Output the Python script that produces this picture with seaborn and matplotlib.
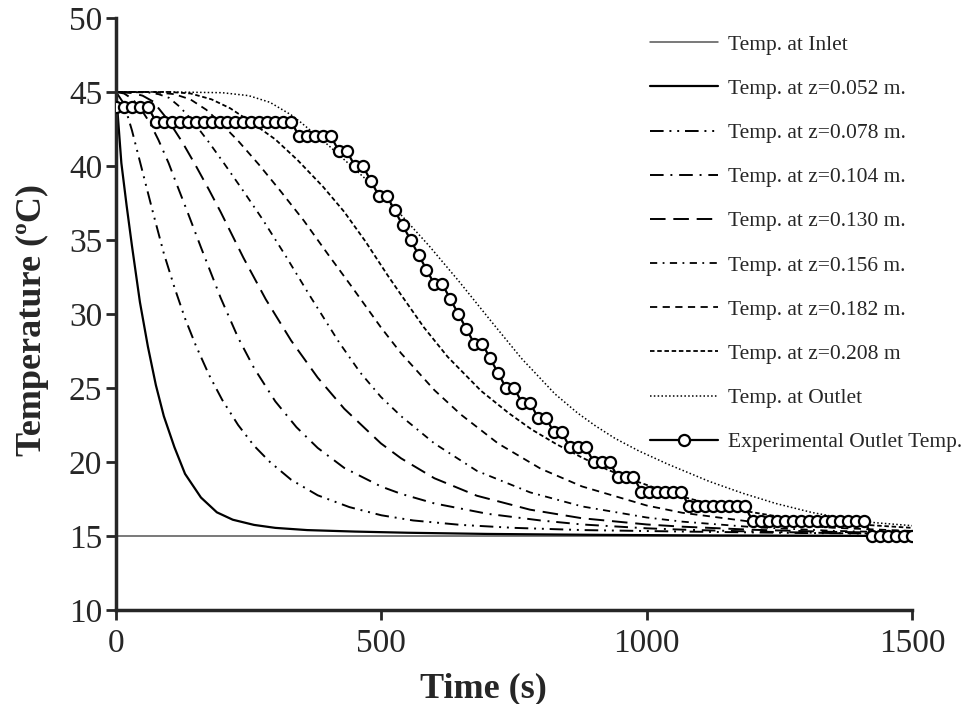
import numpy as np
import pandas as pd
import matplotlib
matplotlib.use("Agg")
import matplotlib.pyplot as plt
import seaborn as sns

# ---------------- data ----------------
inlet_t = [0, 1500]
inlet_T = [15, 15]

z052_t = [0, 10, 20, 30, 45, 60, 75, 90, 110, 130, 160, 190, 220, 260, 300, 360, 450, 550, 700, 900, 1100, 1300, 1500]
z052_T = [45, 40.2, 37.3, 34.6, 30.8, 27.8, 25.2, 23.1, 21.0, 19.2, 17.6, 16.6, 16.1, 15.75, 15.55, 15.4, 15.3, 15.22, 15.14, 15.08, 15.04, 15.02, 15.0]

z078_t = [0, 15, 30, 50, 70, 90, 110, 130, 150, 175, 200, 230, 260, 290, 330, 380, 440, 500, 560, 650, 750, 880, 1070, 1300, 1500]
z078_T = [45, 44.2, 42.4, 39.6, 36.8, 34.1, 31.8, 29.7, 27.9, 25.9, 24.2, 22.5, 21.1, 20.0, 18.8, 17.75, 16.95, 16.4, 16.05, 15.75, 15.55, 15.4, 15.3, 15.2, 15.15]

z104_t = [0, 15, 30, 45, 64, 80, 99, 115, 134, 160, 197, 230, 260, 300, 340, 380, 430, 499, 537, 600, 700, 800, 878, 1000, 1067, 1200, 1350, 1500]
z104_T = [45, 44.9, 44.55, 43.95, 42.9, 41.75, 40.2, 38.7, 36.95, 34.5, 31.1, 28.4, 26.35, 24.1, 22.35, 20.95, 19.6, 18.35, 17.85, 17.2, 16.5, 16.05, 15.78, 15.52, 15.43, 15.3, 15.2, 15.14]

z130_t = [0, 30, 50, 70, 98, 125, 149, 175, 197, 240, 282, 330, 380, 430, 499, 537, 600, 680, 780, 878, 1000, 1067, 1200, 1350, 1500]
z130_T = [45, 44.93, 44.75, 44.35, 43.1, 41.6, 40.1, 38.4, 36.9, 33.8, 31.0, 28.2, 25.7, 23.6, 21.26, 20.25, 18.9, 17.72, 16.78, 16.2, 15.78, 15.63, 15.42, 15.28, 15.2]

z156_t = [0, 60, 80, 100, 120, 143, 175, 203, 240, 276, 320, 364, 420, 460, 499, 537, 600, 680, 780, 878, 1000, 1067, 1200, 1350, 1500]
z156_T = [45, 44.97, 44.85, 44.6, 44.0, 43.1, 41.6, 40.2, 38.3, 36.4, 33.9, 31.3, 28.1, 26.05, 24.4, 23.1, 21.25, 19.4, 17.95, 17.0, 16.25, 15.97, 15.6, 15.35, 15.22]

z182_t = [0, 70, 110, 140, 170, 197, 230, 269, 310, 354, 400, 443, 499, 537, 600, 650, 720, 800, 878, 1000, 1067, 1200, 1350, 1500]
z182_T = [45, 45, 44.85, 44.5, 43.8, 42.9, 41.7, 40.1, 38.3, 36.3, 34.0, 31.9, 29.1, 27.35, 24.85, 23.2, 21.25, 19.55, 18.35, 17.06, 16.57, 15.95, 15.56, 15.34]

z208_t = [0, 100, 140, 180, 215, 253, 300, 342, 390, 430, 470, 512, 537, 580, 625, 688, 740, 783, 830, 878, 925, 972, 1020, 1067, 1150, 1250, 1350, 1500]
z208_T = [45, 45, 44.9, 44.5, 43.9, 43.0, 41.8, 40.4, 38.6, 36.9, 34.9, 32.6, 31.3, 29.1, 27.1, 24.8, 23.3, 22.2, 21.2, 20.3, 19.5, 18.8, 18.2, 17.65, 16.9, 16.3, 15.9, 15.55]

outlet_t = [0, 100, 200, 250, 290, 330, 348, 400, 474, 537, 590, 644, 707, 764, 827, 870, 903, 940, 985, 1040, 1117, 1180, 1243, 1310, 1369, 1430, 1500]
outlet_T = [45, 45, 44.95, 44.75, 44.3, 43.45, 42.95, 41.4, 39.0, 36.7, 34.6, 32.3, 29.5, 27.0, 24.6, 23.3, 22.45, 21.6, 20.75, 19.85, 18.7, 17.9, 17.2, 16.6, 16.2, 15.9, 15.7]

exp_t = [0, 15, 30, 45, 60, 75, 90, 105, 120, 135, 150, 165, 180, 195, 210, 225, 240, 255, 270,
         285, 300, 315, 330, 345, 360, 375, 390, 405, 420, 435, 450, 465, 480, 495, 510, 525,
         540, 555, 570, 585, 600, 615, 630, 645, 660, 675, 690, 705, 720, 735, 750, 765, 780,
         795, 810, 825, 840, 855, 870, 885, 900, 915, 930, 945, 960, 975, 990, 1005, 1020, 1035,
         1050, 1065, 1080, 1095, 1110, 1125, 1140, 1155, 1170, 1185, 1200, 1215, 1230, 1245,
         1260, 1275, 1290, 1305, 1320, 1335, 1350, 1365, 1380, 1395, 1410, 1425, 1440, 1455,
         1470, 1485, 1500]
exp_T = [44, 44, 44, 44, 44,
         43, 43, 43, 43, 43, 43, 43, 43, 43, 43, 43, 43, 43, 43, 43, 43, 43, 43,
         42, 42, 42, 42, 42,
         41, 41, 40, 40, 39, 38, 38, 37, 36, 35, 34, 33, 32, 32, 31, 30, 29, 28, 28, 27, 26,
         25, 25, 24, 24, 23, 23, 22, 22, 21, 21, 21, 20, 20, 20, 19, 19, 19,
         18, 18, 18, 18, 18, 18,
         17, 17, 17, 17, 17, 17, 17, 17,
         16, 16, 16, 16, 16, 16, 16, 16, 16, 16, 16, 16, 16, 16, 16,
         15, 15, 15, 15, 15, 15]

labels = ["Temp. at Inlet", "Temp. at z=0.052 m.", "Temp. at z=0.078 m.", "Temp. at z=0.104 m.",
          "Temp. at z=0.130 m.", "Temp. at z=0.156 m.", "Temp. at z=0.182 m.", "Temp. at z=0.208 m",
          "Temp. at Outlet", "Experimental Outlet Temp."]

x_ticks = [0, 500, 1000, 1500]
y_ticks = [10, 15, 20, 25, 30, 35, 40, 45, 50]

# ---------------- styling ----------------
sns.set_style("ticks")
plt.rcParams['font.family'] = ['Liberation Serif', 'DejaVu Serif']

fig = plt.figure(figsize=(9.76, 7.04), dpi=100)
ax = fig.add_axes([0.1189, 0.1335, 0.8156, 0.841])

series = [
    (inlet_t, inlet_T, dict(color="#555555", linewidth=1.1, linestyle="-")),
    (z052_t, z052_T, dict(color="black", linewidth=1.6, linestyle="-")),
    (z078_t, z078_T, dict(color="black", linewidth=1.4, linestyle=(0, (7, 3, 1, 3, 1, 3)))),
    (z104_t, z104_T, dict(color="black", linewidth=1.4, linestyle=(0, (7, 3.5, 1, 3.5)))),
    (z130_t, z130_T, dict(color="black", linewidth=1.4, linestyle=(0, (8, 4)))),
    (z156_t, z156_T, dict(color="black", linewidth=1.3, linestyle=(0, (4, 3, 1, 3)))),
    (z182_t, z182_T, dict(color="black", linewidth=1.3, linestyle=(0, (4, 3)))),
    (z208_t, z208_T, dict(color="black", linewidth=1.3, linestyle=(0, (2.5, 1.5)))),
    (outlet_t, outlet_T, dict(color="black", linewidth=1.1, linestyle=(0, (1, 1.5)))),
]

for (t, T, kw), lab in zip(series, labels[:-1]):
    df = pd.DataFrame({"t": t, "T": T})
    sns.lineplot(data=df, x="t", y="T", ax=ax, label=lab, sort=False, estimator=None, **kw)

df_exp = pd.DataFrame({"t": exp_t, "T": exp_T})
sns.lineplot(data=df_exp, x="t", y="T", ax=ax, label=labels[-1], sort=False, estimator=None,
             color="black", linewidth=1.6, marker="o", markersize=8,
             markerfacecolor="white", markeredgecolor="black", markeredgewidth=1.6, zorder=5)

ax.set_xlim(0, 1500)
ax.set_ylim(10, 50)
ax.set_xticks(x_ticks)
ax.set_yticks(y_ticks)
ax.tick_params(axis="both", direction="out", length=7, width=2, labelsize=24)
ax.tick_params(axis="y", pad=3)
ax.tick_params(axis="x", pad=6)
for s in ["top", "right"]:
    ax.spines[s].set_visible(False)
for s in ["left", "bottom"]:
    ax.spines[s].set_linewidth(2.5)

ax.set_xlabel("Time (s)", fontsize=26, fontweight="bold")
ax.set_ylabel("Temperature (ºC)", fontsize=26, fontweight="bold")
ax.xaxis.set_label_coords(0.461, -0.106)
ax.yaxis.set_label_coords(-0.084, 0.49)

leg = ax.legend(loc="upper left", bbox_to_anchor=(0.657, 0.963), bbox_transform=fig.transFigure,
                frameon=False, fontsize=15.5, handlelength=3.16, handletextpad=0.47,
                labelspacing=1.12, borderaxespad=0)

fig.savefig("out.png", dpi=100)
